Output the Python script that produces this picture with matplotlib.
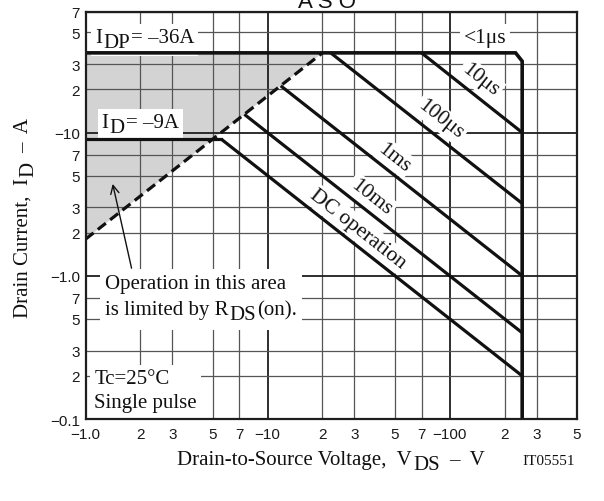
import math
import matplotlib
matplotlib.use('Agg')
import matplotlib.pyplot as plt
from matplotlib.ticker import FixedLocator, FixedFormatter
from matplotlib.transforms import IdentityTransform, Bbox
from matplotlib.patches import Rectangle

SANS = ['Liberation Sans', 'DejaVu Sans']
SERIF = ['Liberation Serif', 'DejaVu Serif']
plt.rcParams['font.family'] = SANS

# ---------------- data ----------------
vds_max = 250.0                 # V_DSS limit
idp_limit = 36.0                # I_DP
id_limit = 9.0                  # I_D
idp_corner_v = [230.0, 250.0]
idp_corner_i = [36.0, 31.5]
rds_v = [1.0, 20.0]             # R_DS(on) limit line
rds_i = [1.8, 36.0]
pulse_labels = ['10μs', '100μs', '1ms', '10ms', 'DC operation']
pulse_start_v = [70.0, 22.2, 11.8, 7.45, 5.56]
pulse_start_i = [36.0, 36.0, 21.2, 13.4, 9.0]
pulse_end_i = [10.0, 3.2, 1.0, 0.4, 0.2]

x_major = [1, 10, 100]
x_major_labels = ['−1.0', '−10', '−100']
x_minor = [2, 3, 5, 7, 20, 30, 50, 70, 200, 300, 500]
x_minor_labels = ['2', '3', '5', '7', '2', '3', '5', '7', '2', '3', '5']
y_major = [0.1, 1, 10]
y_major_labels = ['−0.1', '−1.0', '−10']
y_minor = [0.2, 0.3, 0.5, 0.7, 2, 3, 5, 7, 20, 30, 50, 70]
y_minor_labels = ['2', '3', '5', '7', '2', '3', '5', '7', '2', '3', '5', '7']
x_lim = (1, 500)
y_lim = (0.1, 70)

# ---------------- figure ----------------
W, H = 604, 502
fig = plt.figure(figsize=(W / 100, H / 100), dpi=100)
ax = fig.add_axes([85.5 / W, 1 - 420 / H, (577 - 85.5) / W, (420 - 12.5) / H])
ax.set_xscale('log')
ax.set_yscale('log')
ax.set_xlim(*x_lim)
ax.set_ylim(*y_lim)
ax.set_axisbelow('line')

ax.xaxis.set_major_locator(FixedLocator(x_major))
ax.xaxis.set_major_formatter(FixedFormatter(x_major_labels))
ax.xaxis.set_minor_locator(FixedLocator(x_minor))
ax.xaxis.set_minor_formatter(FixedFormatter(x_minor_labels))
ax.yaxis.set_major_locator(FixedLocator(y_major))
ax.yaxis.set_major_formatter(FixedFormatter(y_major_labels))
ax.yaxis.set_minor_locator(FixedLocator(y_minor))
ax.yaxis.set_minor_formatter(FixedFormatter(y_minor_labels))
ax.tick_params(axis='x', which='both', length=0, labelsize=11, pad=6, labelcolor='#1a1a1a')
ax.tick_params(axis='y', which='both', length=0, labelsize=11, pad=4, labelcolor='#1a1a1a')
ax.grid(which='major', color='#1e1e1e', lw=1.3)
ax.grid(which='minor', color='#555555', lw=0.9)
for s in ax.spines.values():
    s.set_linewidth(1.6)
    s.set_color('#1e1e1e')

LC = '#111111'
LW = 2.3
# shaded RDS(on) limited area
ax.fill([rds_v[0], rds_v[1], rds_v[0]], [rds_i[0], rds_i[1], idp_limit],
        color='#d3d3d3', lw=0, zorder=1)
# IDP limit + VDSS limit
ax.plot([x_lim[0], idp_corner_v[0], idp_corner_v[1], vds_max],
        [idp_limit, idp_corner_i[0], idp_corner_i[1], y_lim[0]],
        color=LC, lw=LW + 0.3, solid_joinstyle='miter', zorder=2.2)
# ID limit
ax.plot([x_lim[0], pulse_start_v[-1]], [id_limit, id_limit], color=LC, lw=LW, zorder=2.2)
# pulse lines
for sv, si, ei in zip(pulse_start_v, pulse_start_i, pulse_end_i):
    ax.plot([sv, vds_max], [si, ei], color=LC, lw=LW, solid_capstyle='butt', zorder=2.2)
# RDS(on) dashed line
ax.plot(rds_v, rds_i, color=LC, lw=LW, ls=(0, (3.2, 1.7)), zorder=2.2)

fig.canvas.draw()
renderer = fig.canvas.get_renderer()

# angle of a slope -1 line on screen
p1 = ax.transData.transform((10, 10))
p2 = ax.transData.transform((100, 1))
ang = math.degrees(math.atan2(p2[1] - p1[1], p2[0] - p1[0]))

label_pos = [(148, 23.4), (89.5, 12.4), (49.6, 6.71), (37.0, 3.55), (31.2, 2.14)]
for lbl, (lx, ly) in zip(pulse_labels, label_pos):
    ax.text(lx, ly, lbl, rotation=ang, rotation_mode='anchor', ha='center', va='center',
            fontsize=15.5, family=SERIF, color=LC, zorder=1.9,
            bbox=dict(boxstyle='square,pad=0.12', fc='white', ec='none'))


def rich(pieces, x, y, size=15, rotation=0, center=False, zorder=3):
    """pieces: (text, drop_px, gap_px); x,y pixel coords from top-left (baseline start)."""
    arts, lens = [], []
    for s, drop, gap in pieces:
        t = ax.text(0, 0, s, transform=IdentityTransform(), fontsize=size, family=SERIF,
                    rotation=rotation, rotation_mode='anchor', ha='left', va='baseline',
                    zorder=zorder, clip_on=False, color=LC)
        bb = t.get_window_extent(renderer)
        lens.append(bb.height if rotation == 90 else bb.width)
        arts.append(t)
    g = 1.0
    total = sum(lens) + sum(p[2] for p in pieces) + g * (len(pieces) - 1)
    xd, yd = x, H - y
    pos = -total / 2 if center else 0
    for t, L, (s, drop, gap) in zip(arts, lens, pieces):
        pos += gap
        if rotation == 90:
            t.set_position((xd + drop, yd + pos))
        else:
            t.set_position((xd + pos, yd - drop))
        pos += L + g
    return arts


def white_box(arts, pad=4, bottom_extra=0):
    bbs = [a.get_window_extent(renderer) for a in arts]
    u = Bbox.union(bbs)
    ax.add_patch(Rectangle((u.x0 - pad, u.y0 - pad - bottom_extra),
                           u.width + 2 * pad, u.height + 2 * pad + bottom_extra,
                           transform=IdentityTransform(), fc='white', ec='none', zorder=1.8))


a = rich([('I', 0, 0), ('DP', 5, 0), ('= –36A', 0, 0)], 95, 43.3)
white_box(a, pad=4)
a = rich([('I', 0, 0), ('D', 5, 0), ('= –9A', 0, 0)], 101.7, 128.3)
white_box(a, pad=4)
t1 = ax.text(485, H - 38.3, '<1μs', transform=IdentityTransform(), ha='center', va='center',
             fontsize=15.5, family=SERIF, color=LC, zorder=3)
white_box([t1], pad=4)

a1 = rich([('Operation in this area', 0, 0)], 105, 289.3)
a2 = rich([('is limited by R', 0, 0), ('DS', 5.5, 0), ('(on).', 0, 0)], 105, 315)
white_box(a1 + a2, pad=5)

b1 = rich([('Tc=25°C', 0, 0)], 94.3, 384.3)
b2 = rich([('Single pulse', 0, 0)], 94.3, 408.3)
white_box(b1 + b2, pad=4, bottom_extra=10)

# arrow
ax.annotate('', xy=(1.41, 4.38), xytext=(1.79, 1.13),
            arrowprops=dict(arrowstyle='->,head_length=0.6,head_width=0.3', color=LC, lw=1.0,
                            shrinkA=0, shrinkB=0), zorder=2.3)

# axis labels
rich([('Drain-to-Source Voltage,  V', 0, 0), ('DS', 5, 0), ('–  V', 0, 8)], 331, 465, center=True)
rich([('Drain Current,  I', 0, 0), ('D', 5, 0), ('–  A', 0, 8)], 28, 218, rotation=90, center=True)
ax.text(549, H - 465, 'IT05551', transform=IdentityTransform(), ha='center', va='baseline',
        fontsize=11, family=SERIF, color=LC, clip_on=False)

# title (cut off at top)
fig.text(327 / W, 1 - 8 / H, 'A S O', ha='center', va='baseline', fontsize=16,
         family=SANS, color=LC)

fig.savefig('out.png', dpi=100)
